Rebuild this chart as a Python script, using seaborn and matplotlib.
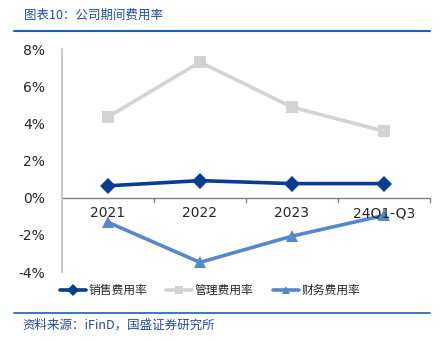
import matplotlib
matplotlib.use("Agg")
import matplotlib.pyplot as plt
import seaborn as sns
import pandas as pd
from matplotlib.lines import Line2D

categories = ["2021", "2022", "2023", "24Q1-Q3"]
sales_rate = [0.64, 0.92, 0.76, 0.76]
admin_rate = [4.35, 7.30, 4.88, 3.58]
finance_rate = [-1.32, -3.48, -2.07, -0.95]
series_names = ["销售费用率", "管理费用率", "财务费用率"]
yticks = [-4, -2, 0, 2, 4, 6, 8]

sns.set_style("white")
plt.rcParams['font.family'] = ['Noto Sans CJK SC', 'DejaVu Sans']

rows = []
for name, vals in zip(series_names, [sales_rate, admin_rate, finance_rate]):
    for i, (c, v) in enumerate(zip(categories, vals)):
        rows.append({"cat": c, "x": i + 0.5, "val": v, "series": name})
df = pd.DataFrame(rows)

colors = {"销售费用率": "#0A3C8F", "管理费用率": "#D3D3D3", "财务费用率": "#5588CC"}
markers = {"销售费用率": "D", "管理费用率": "s", "财务费用率": "^"}

fig = plt.figure(figsize=(4.42, 3.41), dpi=100)
ax = fig.add_axes([0.140, 0.2023, 0.833, 0.6537])

sns.lineplot(data=df, x="x", y="val", hue="series", style="series",
             palette=colors, markers=markers, dashes=False, linewidth=2.6,
             markersize=8, markeredgewidth=0, ax=ax, legend=False)

ax.set_xlim(0, 4)
ax.set_ylim(-4, 8)
ax.set_yticks(yticks)
ax.set_yticklabels([f"{t}%" for t in yticks], fontsize=10, family=['DejaVu Sans'])
ax.set_xticks([])
ax.set_xlabel("")
ax.set_ylabel("")
for s in ["top", "right", "bottom"]:
    ax.spines[s].set_visible(False)
ax.spines["left"].set_color("#BFBFBF")
ax.spines["left"].set_linewidth(1.2)
ax.tick_params(axis="y", direction="in", length=4, color="#BFBFBF", pad=12)
ax.axhline(0, color="#808080", linewidth=1.0, zorder=1)
for b in [1, 2, 3, 4]:
    ax.plot([b, b], [0, -0.22], color="#808080", linewidth=1.0, clip_on=False, zorder=1)
for i, c in enumerate(categories):
    ax.text(i + 0.5, -0.45, c, ha="center", va="top", fontsize=10, family=['DejaVu Sans'], zorder=5)

handles = [Line2D([0], [0], color=colors[n], marker=markers[n], linewidth=2.6,
                  markersize=6, markeredgewidth=0) for n in series_names]
fig.legend(handles, series_names, loc="center", bbox_to_anchor=(0.475, 0.148), ncol=3,
           frameon=False, fontsize=8.5, handlelength=2.2, columnspacing=1.6, handletextpad=0.25)

fig.text(0.055, 0.955, "图表10：公司期间费用率", color="#1F4E9E", fontsize=9, style="italic", va="center")
fig.add_artist(Line2D([0.032, 0.973], [0.91, 0.91], color="#1F5FB5", linewidth=1.5))
fig.add_artist(Line2D([0.032, 0.973], [0.082, 0.082], color="#1F5FB5", linewidth=1.2))
fig.text(0.05, 0.047, "资料来源：iFinD，国盛证券研究所", color="#1F4E9E", fontsize=9, style="italic", va="center")

fig.savefig("out.png", dpi=100)
